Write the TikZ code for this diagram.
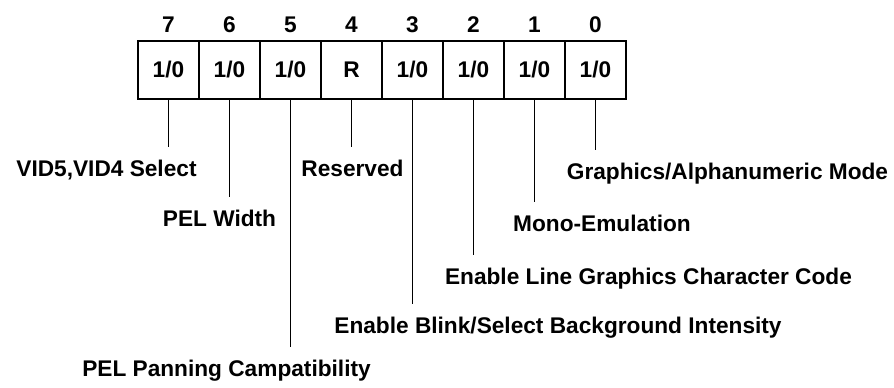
\documentclass[tikz,border=0pt]{standalone}
\usepackage{fontspec}
\setmainfont{Liberation Sans}
\usetikzlibrary{calc, positioning}

\begin{document}
\begin{tikzpicture}[x=0.75pt, y=0.75pt,
    cell/.style={draw, line width=1.5pt, outer sep=0pt, inner sep=0pt,
                 minimum width=45.75pt, minimum height=43.5pt},
    bitnum/.style={inner sep=0pt},
    desc/.style={inner sep=0pt, anchor=north},
    lead/.style={line width=1.4pt, shorten >=9.75pt}]
\fontsize{17}{20}\selectfont\bfseries
\useasboundingbox (0,0) rectangle (894,387);

% register cells
\node[cell] (c7) at (168.5,317) {1/0};
\node[cell, right=0pt of c7] (c6) {1/0};
\node[cell, right=0pt of c6] (c5) {1/0};
\node[cell, right=0pt of c5] (c4) {R};
\node[cell, right=0pt of c4] (c3) {1/0};
\node[cell, right=0pt of c3] (c2) {1/0};
\node[cell, right=0pt of c2] (c1) {1/0};
\node[cell, right=0pt of c1] (c0) {1/0};

% bit numbers
\node[bitnum, above=6pt of c7] (n7) {7};
\node[bitnum, above=6pt of c6] (n6) {6};
\node[bitnum, above=6pt of c5] (n5) {5};
\node[bitnum, above=6pt of c4] (n4) {4};
\node[bitnum, above=6pt of c3] (n3) {3};
\node[bitnum, above=6pt of c2] (n2) {2};
\node[bitnum, above=6pt of c1] (n1) {1};
\node[bitnum, above=6pt of c0] (n0) {0};

% descriptions
\node[desc] (l7) at (106.5,227) {VID5,VID4 Select};
\node[desc] (l6) at (219.5,177) {PEL Width};
\node[desc] (l5) at (226.5,27) {PEL Panning Campatibility};
\node[desc] (l4) at (352.5,227) {Reserved};
\node[desc] (l3) at (558,70) {Enable Blink/Select Background Intensity};
\node[desc] (l2) at (648.5,119) {Enable Line Graphics Character Code};
\node[desc] (l1) at (602,172) {Mono-Emulation};
\node[desc] (l0) at (727.5,224) {Graphics/Alphanumeric Mode};

\draw[lead] (c7.south) -- (c7.south |- l7.north);
\draw[lead] (c6.south) -- (c6.south |- l6.north);
\draw[lead] (c5.south) -- (c5.south |- l5.north);
\draw[lead] (c4.south) -- (c4.south |- l4.north);
\draw[lead] (c3.south) -- (c3.south |- l3.north);
\draw[lead] (c2.south) -- (c2.south |- l2.north);
\draw[lead] (c1.south) -- (c1.south |- l1.north);
\draw[lead] (c0.south) -- (c0.south |- l0.north);
\end{tikzpicture}
\end{document}
